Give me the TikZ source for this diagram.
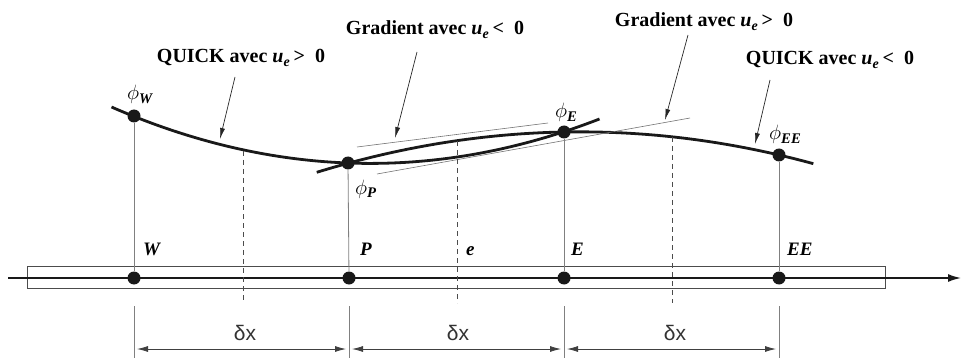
\documentclass[tikz,border=0pt]{standalone}
\usepackage{fontspec}
\setmainfont{Liberation Serif}
\newfontfamily\sansf{Liberation Sans}
\usetikzlibrary{arrows.meta}
\begin{document}
\begin{tikzpicture}[x=1pt,y=-1pt,
  dot/.style={circle,fill=black!90,inner sep=0pt,minimum size=13pt},
  curveline/.style={line width=2.8pt,black!90},
  tangent/.style={line width=0.6pt,black!55},
  vline/.style={line width=0.8pt,black!50},
  dline/.style={line width=0.9pt,black!70,dash pattern=on 5pt off 4pt},
  pointer/.style={line width=0.7pt,black!85,-{Latex[length=11pt,width=5pt]}},
  dim/.style={line width=0.8pt,black!75,{Latex[length=11pt,width=6pt]}-{Latex[length=11pt,width=6pt]}},
  lab/.style={font=\fontsize{20}{22}\selectfont\bfseries,inner sep=0pt,anchor=base},
  nlab/.style={font=\fontsize{19}{21}\selectfont\bfseries\itshape,inner sep=0pt,anchor=base west},
  phil/.style={font=\fontsize{21}{23}\selectfont,inner sep=0pt,anchor=base west},
  dx/.style={font=\fontsize{21}{23}\selectfont\sansf,inner sep=0pt,black!80,anchor=base}]
\useasboundingbox (0,0) rectangle (963,358);

% axis and strip
\draw[line width=0.8pt,black!70] (27,266) rectangle (885,288);
\coordinate (a0) at (8,278);
\coordinate (a1) at (961,278);
\draw[line width=1.6pt,black!90,-{Latex[length=13pt,width=8pt]}] (a0) -- (a1);

% curves
\draw[curveline] plot[domain=-1.1:1.17,samples=80,smooth] ({348+215*\x},{163+8*\x-39*\x*\x});
\draw[curveline] plot[domain=-1.15:1.16,samples=80,smooth] ({564+215*\x},{132-4*\x+27*\x*\x});

% tangents
\coordinate (t1a) at (357,147);
\coordinate (t1b) at (548,123);
\coordinate (t2a) at (377,174);
\coordinate (t2b) at (690,118);
\draw[tangent] (t1a) -- (t1b);
\draw[tangent] (t2a) -- (t2b);

% grid nodes
\node[dot] (W) at (134,278) {};
\node[dot] (P) at (349,278) {};
\node[dot] (E) at (564,278) {};
\node[dot] (EE) at (779,278) {};
\node[dot] (pW) at (134,116) {};
\node[dot] (pP) at (348,163) {};
\node[dot] (pE) at (564,132) {};
\node[dot] (pEE) at (779,155) {};

\draw[vline] (pW) -- (W);
\draw[vline] (pP) -- (P);
\draw[vline] (pE) -- (E);
\draw[vline] (pEE) -- (EE);

% dashed faces
\coordinate (w1) at (243,151);
\coordinate (w2) at (243,303);
\coordinate (e1) at (457,141);
\coordinate (e2) at (457,303);
\coordinate (f1) at (672,137);
\coordinate (f2) at (672,303);
\draw[dline] (w1) -- (w2);
\draw[dline] (e1) -- (e2);
\draw[dline] (f1) -- (f2);

% labels of nodes
\node[nlab] (lW) at (143,255) {W};
\node[nlab] (lP) at (360,255) {P};
\node[nlab] (le) at (466,255) {e};
\node[nlab] (lE) at (571,255) {E};
\node[nlab] (lEE) at (787,255) {EE};

\node[phil] (fW) at (127,100) {$\phi$\textsubscript{\textbf{\textit{W}}}};
\node[phil] (fP) at (355,194) {$\phi$\textsubscript{\textbf{\textit{P}}}};
\node[phil] (fE) at (555,118) {$\phi$\textsubscript{\textbf{\textit{E}}}};
\node[phil] (fEE) at (769,140) {$\phi$\textsubscript{\textbf{\textit{EE}}}};

% dimension lines
\coordinate (x1a) at (134,306); \coordinate (x1b) at (134,358);
\coordinate (x2a) at (349,306); \coordinate (x2b) at (349,358);
\coordinate (x3a) at (564,306); \coordinate (x3b) at (564,358);
\coordinate (x4a) at (779,306); \coordinate (x4b) at (779,358);
\draw[vline] (x1a) -- (x1b);
\draw[vline] (x2a) -- (x2b);
\draw[vline] (x3a) -- (x3b);
\draw[vline] (x4a) -- (x4b);
\coordinate (d1a) at (137,349); \coordinate (d1b) at (346,349);
\coordinate (d2a) at (352,349); \coordinate (d2b) at (561,349);
\coordinate (d3a) at (567,349); \coordinate (d3b) at (776,349);
\draw[dim] (d1a) -- (d1b);
\draw[dim] (d2a) -- (d2b);
\draw[dim] (d3a) -- (d3b);
\node[dx] (dx1) at (245,340) {δx};
\node[dx] (dx2) at (458,340) {δx};
\node[dx] (dx3) at (675,340) {δx};

% annotations
\node[lab] (q1) at (241,63) {QUICK avec \textit{u}\textsubscript{\textit{e}}\,>\ \ 0};
\node[lab] (g1) at (435,35) {Gradient avec \textit{u}\textsubscript{\textit{e}}\,<\ \ 0};
\node[lab] (g2) at (704,27) {Gradient avec \textit{u}\textsubscript{\textit{e}}\,>\ \ 0};
\node[lab] (q2) at (830,65) {QUICK avec \textit{u}\textsubscript{\textit{e}}\,<\ \ 0};

\coordinate (q1s) at (235,77);  \coordinate (q1e) at (220,139);
\coordinate (g1s) at (417,52);  \coordinate (g1e) at (395,138);
\coordinate (g2s) at (688,35);  \coordinate (g2e) at (665,120);
\coordinate (q2s) at (770,80);  \coordinate (q2e) at (755,144);
\draw[pointer] (q1s) -- (q1e);
\draw[pointer] (g1s) -- (g1e);
\draw[pointer] (g2s) -- (g2e);
\draw[pointer] (q2s) -- (q2e);
\end{tikzpicture}
\end{document}
